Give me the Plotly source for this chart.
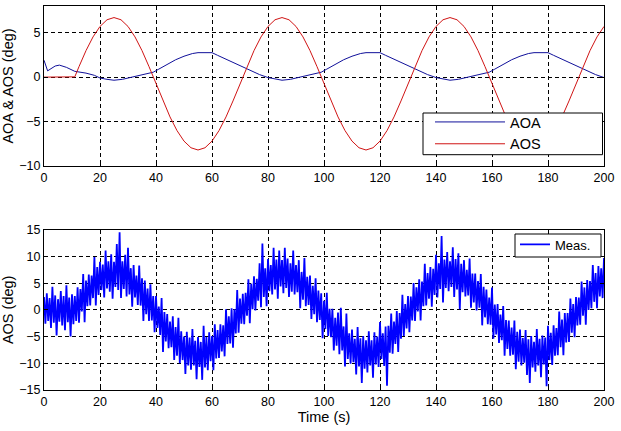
import plotly.graph_objects as go

# ---------------- data ----------------
# Top panel: AOA (deg)
aoa_t = [0, 0.5, 1.3, 2.5, 4, 5.5, 8, 11, 15, 18,
         20, 22.5, 25, 28, 31, 34, 37, 39, 41, 44,
         47, 50, 53, 55, 60, 62, 65, 68, 71, 74,
         77, 80, 82.5, 85, 88, 91, 94, 97, 99, 101,
         104, 107, 110, 113, 115, 120, 122, 125, 128, 131,
         134, 137, 140, 142.5, 145, 148, 151, 154, 157, 159,
         161, 164, 167, 170, 173, 175, 180, 182, 185, 188,
         191, 194, 197, 200]
aoa_v = [1.9, 1.5, 0.7, 0.95, 1.25, 1.35, 1.1, 0.65, 0.45, 0.2,
         -0.1, -0.25, -0.35, -0.25, -0.05, 0.15, 0.35, 0.55, 0.9, 1.45,
         1.95, 2.35, 2.65, 2.75, 2.75, 2.45, 2.0, 1.55, 1.1, 0.68,
         0.28, -0.05, -0.2, -0.35, -0.25, -0.05, 0.15, 0.35, 0.55, 0.9,
         1.45, 1.95, 2.35, 2.65, 2.75, 2.75, 2.45, 2.0, 1.55, 1.1,
         0.68, 0.28, -0.05, -0.2, -0.35, -0.25, -0.05, 0.15, 0.35, 0.55,
         0.9, 1.45, 1.95, 2.35, 2.65, 2.75, 2.75, 2.45, 2.0, 1.55,
         1.1, 0.68, 0.28, -0.05]

# Top panel: AOS (deg)
aos_t = [0, 11, 12.5, 15, 17.5, 20, 22.5, 25, 27.5, 30, 32.5, 35, 37.5, 40,
         42.5, 45, 47.5, 50, 52.5, 55, 57.5, 60, 62.5, 65, 67.5, 70,
         72.5, 75, 77.5, 80, 82.5, 85, 87.5, 90, 92.5, 95, 97.5, 100,
         102.5, 105, 107.5, 110, 112.5, 115, 117.5, 120, 122.5, 125, 127.5, 130,
         132.5, 135, 137.5, 140, 142.5, 145, 147.5, 150, 152.5, 155, 157.5, 160,
         162.5, 165, 167.5, 170, 172.5, 175, 177.5, 180, 182.5, 185, 187.5, 190,
         192.5, 195, 197.5, 200]
aos_v = [0, 0.03,
         1.18, 2.98, 4.52, 5.70, 6.45, 6.70, 6.45, 5.70, 4.52, 2.98, 1.18, -0.75,
         -2.68, -4.48, -6.02, -7.20, -7.95, -8.20, -7.95, -7.20, -6.02, -4.48, -2.68, -0.75,
         1.18, 2.98, 4.52, 5.70, 6.45, 6.70, 6.45, 5.70, 4.52, 2.98, 1.18, -0.75,
         -2.68, -4.48, -6.02, -7.20, -7.95, -8.20, -7.95, -7.20, -6.02, -4.48, -2.68, -0.75,
         1.18, 2.98, 4.52, 5.70, 6.45, 6.70, 6.45, 5.70, 4.52, 2.98, 1.18, -0.75,
         -2.68, -4.48, -6.02, -7.20, -7.95, -8.20, -7.95, -7.20, -6.02, -4.48, -2.68, -0.75,
         1.18, 2.98, 4.52, 5.70]

# Bottom panel: measured AOS, samples read at whole seconds (t = 0..200)
meas_hi = [2.4, 3.1, 2.2, 4.3, 2.7, 2.0, 3.5, 2.6, 4.6, 2.3, 2.9,
           2.6, 4.2, 3.9, 6.7, 5.5, 6.6, 6.4, 9.9, 8.0, 9.0,
           8.5, 11.1, 9.1, 10.4, 9.0, 12.3, 14.5, 9.1, 10.3, 11.6,
           7.8, 8.4, 6.4, 8.3, 5.9, 5.5, 4.0, 4.8, 2.6, 2.6,
           0.6, 2.2, -0.4, -0.8, -2.2, -1.2, -3.2, -1.5, -4.0, -5.0,
           -4.1, -5.2, -3.6, -5.8, -5.1, -6.0, -3.0, -5.1, -4.2, -4.9,
           -2.7, -3.8, -2.7, -2.9, 0.1, -1.2, 0.3, 0.1, 3.7, 2.1,
           3.0, 3.2, 5.7, 4.9, 6.3, 5.8, 8.7, 12.4, 7.8, 9.5,
           8.4, 11.6, 9.4, 11.1, 9.3, 11.6, 9.6, 8.7, 11.1, 8.4,
           9.3, 7.1, 9.7, 6.2, 6.4, 4.5, 5.9, 3.6, 3.1, 1.7,
           3.2, 0.2, 0.2, -1.5, -0.5, 0.4, -3.1, -0.7, -4.4, -3.7,
           -5.4, -3.2, -5.3, -4.9, -5.7, -4.0, -5.7, -4.2, -5.0, -2.3,
           -4.4, -3.1, -3.0, -0.7, -2.2, -0.2, -0.6, 2.8, 1.1, 2.6,
           2.5, 5.0, 4.2, 5.7, 5.3, 8.6, 6.9, 8.0, 7.7, 10.3,
           8.7, 13.8, 9.4, 10.8, 9.1, 11.7, 9.5, 10.6, 8.6, 9.3,
           7.5, 9.6, 6.8, 6.8, 5.4, 6.7, 4.3, 3.8, 2.3, 4.2,
           1.0, 1.1, -0.9, 0.7, -1.9, -2.0, -3.3, -2.0, -4.1, -3.7,
           -5.3, -3.8, -5.5, -4.9, -6.0, -3.6, -5.4, -4.8, -5.2, -3.0,
           -4.3, -2.9, -3.4, -0.3, -1.8, -0.6, -0.6, 2.1, 1.1, 2.4,
           2.3, 5.3, 4.2, 5.6, 5.4, 8.4, 6.9, 8.2, 7.8, 9.7]
# samples read at half seconds (t = 0.5..199.5)
meas_lo = [-2.6, -2.1, -3.4, -2.4, -4.8, -2.2, -2.9, -3.8, -2.3, -5.0, -2.7,
           -2.1, -2.4, -0.3, -2.3, 0.7, 0.8, 2.2, 0.8, 2.8, 3.7,
           2.3, 4.0, 3.4, 2.1, 4.3, 3.7, 2.2, 3.9, 2.5, 2.9,
           0.6, 2.3, 0.9, 0.8, -2.1, -0.8, -2.1, -2.0, -4.2, -3.4,
           -4.7, -7.9, -5.9, -7.2, -7.0, -9.4, -8.6, -10.0, -9.4, -12.0,
           -10.4, -11.2, -10.4, -13.0, -10.7, -13.1, -10.8, -11.3, -9.6, -11.3,
           -9.1, -9.0, -7.8, -8.7, -6.4, -6.3, -7.1, -4.4, -4.3, -2.6,
           -2.7, -1.1, -2.5, 0.1, -0.1, 1.7, 0.5, 2.4, 0.7, 3.5,
           2.9, 3.8, 2.1, 4.4, 3.1, 4.1, 2.4, 3.4, 2.9, 3.3,
           0.3, 1.9, 0.7, 0.9, -1.7, -0.8, -2.3, -1.9, -5.3, -3.6,
           -4.9, -5.1, -7.6, -6.7, -8.3, -7.6, -10.6, -9.2, -10.1, -9.8,
           -12.1, -10.6, -13.7, -11.0, -11.7, -10.4, -12.7, -10.2, -10.7, -9.2,
           -10.5, -14.2, -8.0, -8.2, -6.4, -7.9, -5.4, -4.9, -3.5, -4.2,
           -2.0, -2.1, -0.3, -2.0, 0.7, 0.8, 2.1, 0.6, 2.8, 2.3,
           3.9, 1.4, 4.1, 3.5, 4.3, 2.4, 3.8, 0.1, 3.3, 2.5,
           2.7, 0.4, 1.4, -0.1, 0.4, -2.9, -1.4, -2.7, -2.8, -5.4,
           -4.6, -6.2, -5.7, -8.6, -7.3, -8.6, -8.4, -11.1, -9.7, -10.4,
           -9.9, -12.2, -13.7, -10.8, -11.6, -10.4, -12.6, -10.2, -14.3, -9.4,
           -10.3, -8.6, -8.5, -7.0, -8.5, -6.1, -6.0, -4.3, -5.1, -2.9,
           -2.8, -1.1, -2.8, 0.0, 0.3, 1.5, 0.3, 2.5, 2.2]

x_ticks = [0, 20, 40, 60, 80, 100, 120, 140, 160, 180, 200]

# merge whole- and half-second samples into one time-ordered series
meas_t, meas_v = [], []
for i, v in enumerate(meas_hi):
    meas_t.append(float(i)); meas_v.append(v)
    if i < len(meas_lo):
        meas_t.append(i + 0.5); meas_v.append(meas_lo[i])

# ---------------- figure ----------------
FONT = "Liberation Sans, Arial, sans-serif"
W, H = 621, 431
ML, MR, MT, MB = 44, 17, 6, 41
PW, PH = W - ML - MR, H - MT - MB


def px_x(p):  # pixel column -> paper x
    return (p - ML) / PW


def px_y(p):  # pixel row -> paper y
    return (H - MB - p) / PH


fig = go.Figure()
fig.add_trace(go.Scatter(x=aoa_t, y=aoa_v, mode="lines", name="AOA",
                         line=dict(color="#10109a", width=1),
                         xaxis="x", yaxis="y", legend="legend"))
fig.add_trace(go.Scatter(x=aos_t, y=aos_v, mode="lines", name="AOS",
                         line=dict(color="#d01414", width=1),
                         xaxis="x", yaxis="y", legend="legend"))
fig.add_trace(go.Scatter(x=meas_t, y=meas_v, mode="lines", name="Meas.",
                         line=dict(color="#0000ff", width=1.8),
                         xaxis="x2", yaxis="y2", legend="legend2"))

axis_common = dict(showline=True, linecolor="black", linewidth=1, mirror="ticks",
                   ticks="inside", ticklen=4, tickcolor="black", automargin=False,
                   showgrid=True, gridcolor="black", gridwidth=1, griddash="4px,3px",
                   zeroline=False, tickfont=dict(family=FONT, size=12.5, color="black"))

# legend frames (white boxes with black border, behind the legend entries)
legend_boxes = [
    dict(x0=px_x(423), x1=px_x(602.5), y0=px_y(154.7), y1=px_y(113)),
    dict(x0=px_x(515), x1=px_x(601), y0=px_y(257), y1=px_y(234)),
]
shapes = [dict(type="rect", xref="paper", yref="paper", layer="above",
               fillcolor="white", line=dict(color="black", width=1), **b)
          for b in legend_boxes]

fig.update_layout(
    width=W, height=H,
    margin=dict(l=ML, r=MR, t=MT, b=MB, autoexpand=False),
    paper_bgcolor="white", plot_bgcolor="white",
    font=dict(family=FONT, color="black"),
    xaxis=dict(domain=[0, 1], range=[0, 200], tickvals=x_ticks, anchor="y", **axis_common),
    yaxis=dict(domain=[px_y(166), 1], range=[-10, 8], tickvals=[-10, -5, 0, 5], anchor="x",
               title=dict(text="AOA & AOS (deg)", font=dict(family=FONT, size=14.5)),
               **axis_common),
    xaxis2=dict(domain=[0, 1], range=[0, 200], tickvals=x_ticks, anchor="y2",
                title=dict(text="Time (s)", font=dict(family=FONT, size=14.5), standoff=3),
                **axis_common),
    yaxis2=dict(domain=[0, px_y(229.7)], range=[-15, 15],
                tickvals=[-15, -10, -5, 0, 5, 10, 15], anchor="x2",
                title=dict(text="AOS (deg)", font=dict(family=FONT, size=14.5)),
                **axis_common),
    shapes=shapes,
    legend=dict(x=px_x(430), y=px_y(106), xanchor="left", yanchor="top",
                bgcolor="rgba(0,0,0,0)", borderwidth=0,
                font=dict(family=FONT, size=14.5, color="black"),
                itemwidth=70, tracegroupgap=0),
    legend2=dict(x=px_x(515), y=px_y(229.5), xanchor="left", yanchor="top",
                 bgcolor="rgba(0,0,0,0)", borderwidth=0,
                 font=dict(family=FONT, size=13, color="black"),
                 tracegroupgap=0),
    showlegend=True,
)

fig.write_html("out.html", config={"displayModeBar": False},
               post_script="document.body.style.margin='0px';")
